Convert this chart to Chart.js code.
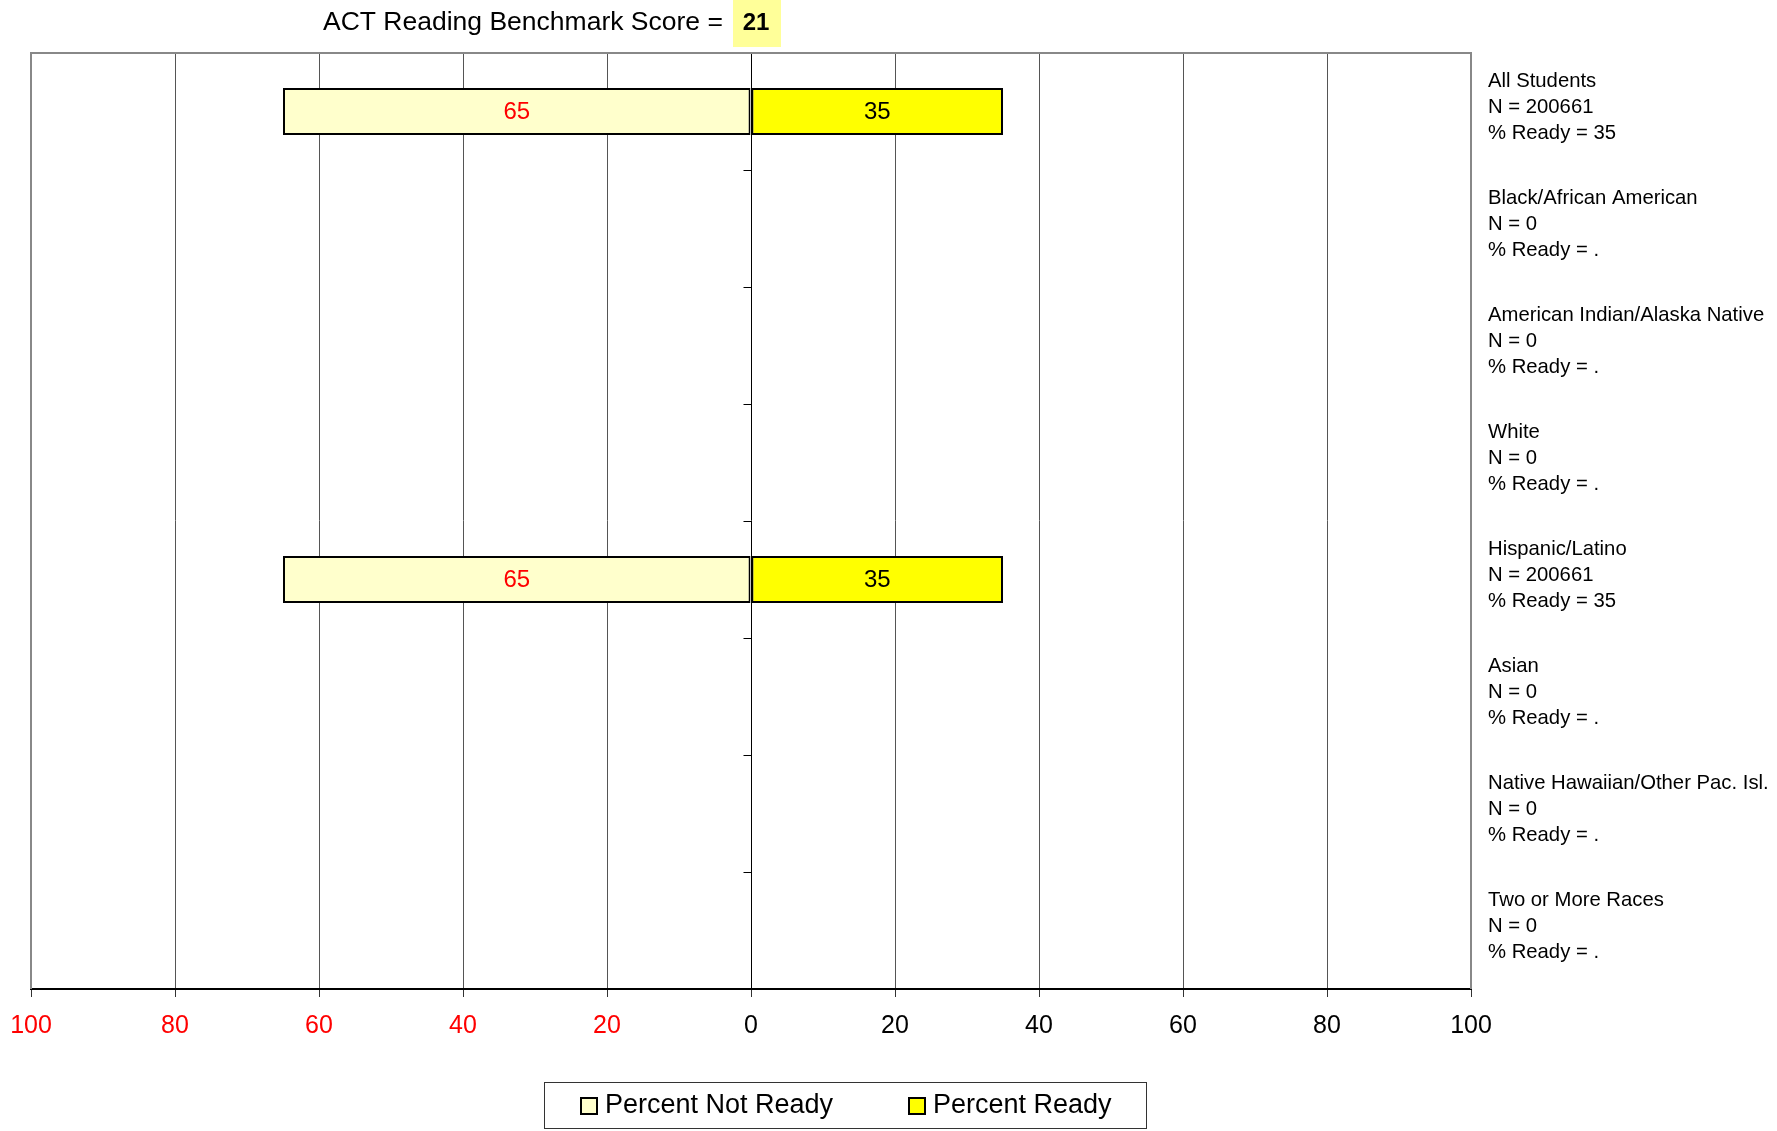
<!DOCTYPE html>
<html>
<head>
<meta charset="utf-8">
<title>ACT Reading Benchmark</title>
<script src="https://cdn.jsdelivr.net/npm/chart.js@4.4.0/dist/chart.umd.min.js"></script>
<style>
  html, body { margin: 0; padding: 0; background: #fff; }
  canvas { display: block; }
</style>
</head>
<body>
<canvas id="chart" width="1777" height="1131"></canvas>
<script>
// student groups, counts and readiness percentages
var groups = ['All Students', 'Black/African American', 'American Indian/Alaska Native', 'White',
              'Hispanic/Latino', 'Asian', 'Native Hawaiian/Other Pac. Isl.', 'Two or More Races'];
var counts = [200661, 0, 0, 0, 200661, 0, 0, 0];
var pctNotReady = [65, null, null, null, 65, null, null, null];
var pctReady = [35, null, null, null, 35, null, null, null];
var benchmarkScore = 21;

var FONT = 'Arial, "Liberation Sans", sans-serif';
Chart.defaults.font.family = FONT;
Chart.defaults.color = '#000';

var groupLabels = groups.map(function (g, i) {
  return [g, 'N = ' + counts[i], '% Ready = ' + (pctReady[i] == null ? '.' : pctReady[i])];
});

// not ready goes to the left of zero
var notReadyData = pctNotReady.map(function (v) { return v == null ? null : -v; });

// gray frame round the plot and small category ticks on the zero line
var framePlugin = {
  id: 'frame',
  beforeDatasetsDraw: function (chart) {
    var a = chart.chartArea, ctx = chart.ctx;
    var xs = chart.scales.x, ys = chart.scales.y;
    ctx.save();
    ctx.strokeStyle = '#888';
    ctx.lineWidth = 2;
    ctx.beginPath();
    ctx.moveTo(a.left, a.bottom);
    ctx.lineTo(a.left, a.top);
    ctx.lineTo(a.right, a.top);
    ctx.lineTo(a.right, a.bottom);
    ctx.stroke();

    var x0 = Math.round(xs.getPixelForValue(0)) + 0.5;
    ctx.strokeStyle = '#000';
    ctx.lineWidth = 1;
    ctx.beginPath();
    for (var i = 0; i < groups.length - 1; i++) {
      var y = Math.round((ys.getPixelForValue(i) + ys.getPixelForValue(i + 1)) / 2) + 0.5;
      ctx.moveTo(x0 - 8, y);
      ctx.lineTo(x0, y);
    }
    ctx.stroke();
    ctx.restore();
  }
};

// value written in the middle of each bar
var barLabelPlugin = {
  id: 'barLabels',
  afterDatasetsDraw: function (chart) {
    var ctx = chart.ctx;
    ctx.save();
    ctx.font = '24px ' + FONT;
    ctx.textAlign = 'center';
    ctx.textBaseline = 'middle';
    chart.data.datasets.forEach(function (ds, d) {
      var meta = chart.getDatasetMeta(d);
      meta.data.forEach(function (el, i) {
        var v = ds.data[i];
        if (v == null) return;
        ctx.fillStyle = ds.labelColor;
        ctx.fillText(String(Math.abs(v)), (el.x + el.base) / 2, el.y + 1);
      });
    });
    ctx.restore();
  }
};

// heading with the highlighted benchmark score
var headerPlugin = {
  id: 'header',
  afterDraw: function (chart) {
    var ctx = chart.ctx;
    var text = 'ACT Reading Benchmark Score =';
    ctx.save();
    ctx.font = '26.5px ' + FONT;
    ctx.textBaseline = 'middle';
    ctx.fillStyle = '#000';
    ctx.fillText(text, 323, 23);
    var bx = Math.round(323 + ctx.measureText(text).width + 10);
    ctx.fillStyle = '#FFFF99';
    ctx.fillRect(bx, 0, 48, 47);
    ctx.font = 'bold 24px ' + FONT;
    ctx.fillStyle = '#000';
    ctx.textAlign = 'center';
    ctx.fillText(String(benchmarkScore), bx + 23, 23);
    ctx.restore();
  }
};

// boxed legend under the axis
var legendBoxPlugin = {
  id: 'legendBox',
  afterDraw: function (chart) {
    var ctx = chart.ctx;
    var itemX = [581, 909];
    ctx.save();
    ctx.strokeStyle = '#333';
    ctx.lineWidth = 1;
    ctx.strokeRect(544.5, 1082.5, 602, 46);
    ctx.font = '27px ' + FONT;
    ctx.textBaseline = 'middle';
    chart.data.datasets.forEach(function (ds, d) {
      var x = itemX[d], cy = 1106;
      ctx.fillStyle = ds.backgroundColor;
      ctx.fillRect(x, cy - 8, 16, 16);
      ctx.strokeStyle = '#000';
      ctx.lineWidth = 2;
      ctx.strokeRect(x, cy - 8, 16, 16);
      ctx.fillStyle = '#000';
      ctx.fillText(ds.label, x + 24, cy);
    });
    ctx.restore();
  }
};

new Chart(document.getElementById('chart'), {
  type: 'bar',
  data: {
    labels: groupLabels,
    datasets: [
      {
        label: 'Percent Not Ready',
        data: notReadyData,
        backgroundColor: '#FFFFCC',
        borderColor: '#000',
        borderWidth: 2,
        borderSkipped: false,
        labelColor: '#FF0000'
      },
      {
        label: 'Percent Ready',
        data: pctReady,
        backgroundColor: '#FFFF00',
        borderColor: '#000',
        borderWidth: 2,
        borderSkipped: false,
        labelColor: '#000'
      }
    ]
  },
  options: {
    indexAxis: 'y',
    responsive: false,
    animation: false,
    categoryPercentage: 1,
    barPercentage: 0.4,
    layout: { padding: { top: 53, left: 31, right: 0, bottom: 82 } },
    plugins: {
      legend: { display: false },
      tooltip: { enabled: false }
    },
    scales: {
      x: {
        stacked: true,
        min: -100,
        max: 100,
        ticks: {
          stepSize: 20,
          autoSkip: false,
          maxRotation: 0,
          padding: 14,
          font: { size: 25 },
          color: function (c) { return c.tick.value < 0 ? '#FF0000' : '#000'; },
          callback: function (v) { return Math.abs(v); }
        },
        grid: {
          color: function (c) { return c.tick.value === 0 ? '#000' : '#555'; },
          lineWidth: 1,
          tickLength: 8,
          tickColor: '#333'
        },
        border: { color: '#000', width: 2 },
        afterFit: function (s) {
          s.height = 60;
          s.paddingLeft = 0;
          s.paddingRight = 0;
        }
      },
      y: {
        position: 'right',
        stacked: true,
        grid: { display: false, drawTicks: false },
        border: { display: false },
        ticks: {
          autoSkip: false,
          padding: 17,
          labelOffset: -4,
          font: { size: 20.3, lineHeight: 1.3 },
          color: '#000'
        },
        afterFit: function (s) {
          s.width = 306;
          s.paddingTop = 0;
          s.paddingBottom = 0;
        }
      }
    }
  },
  plugins: [framePlugin, barLabelPlugin, headerPlugin, legendBoxPlugin]
});
</script>
</body>
</html>
